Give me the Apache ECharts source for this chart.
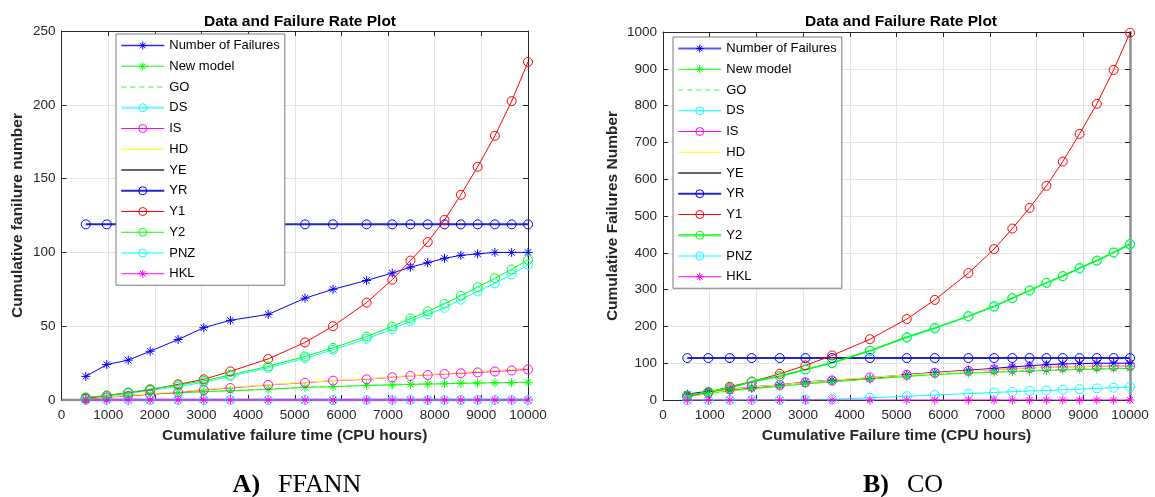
<!DOCTYPE html>
<html><head><meta charset="utf-8">
<script src="https://cdn.jsdelivr.net/npm/echarts@6/dist/echarts.min.js"></script>
<style>html,body{margin:0;padding:0;background:#fff}#c{width:1155px;height:497px}</style>
</head><body><div id="c"></div>
<script>
// ---------- data ----------
const times = [520, 970, 1430, 1900, 2500, 3050, 3620, 4430, 5220, 5820, 6540, 7090, 7480, 7850, 8210, 8560, 8920, 9290, 9650, 10000];
const yeTimesA = [0, 520, 970, 1430, 1900, 2500, 3050, 3620, 4430, 5220, 5820, 6540, 7090, 7480, 7850, 8210, 8560, 8920, 9290, 9650, 10000];
const failures = [16, 24, 27, 33, 41, 49, 54, 58, 69, 75, 81, 86, 90, 93, 96, 98, 99, 100, 100, 100];

// A) FFANN
const newModelA = [1, 2, 3, 4, 4.8, 5.6, 6.3, 7.2, 8.6, 9, 9.9, 10.2, 10.6, 10.8, 11, 11.3, 11.5, 11.7, 11.8, 12];
const goA = [1.1, 2.1, 3.1, 4.1, 5, 5.7, 6.4, 7.3, 8.7, 9.1, 10, 10.3, 10.7, 10.9, 11.1, 11.4, 11.6, 11.8, 11.9, 12.1];
const dsA = [1.5, 2.7, 4.3, 6.5, 9, 12, 16, 21.8, 28.3, 34, 41.5, 48, 53.5, 58, 62.5, 68, 73.5, 79, 85, 91.5];
const isA = [1, 1.8, 2.8, 3.8, 5.2, 6.8, 8.1, 10.2, 11.7, 13.1, 14, 15.4, 16.3, 16.9, 17.6, 18.1, 18.7, 19.3, 20, 20.7];
const hdA = [1.2, 2.1, 3.1, 4.2, 5.6, 7.1, 8.5, 10.4, 11.9, 13.2, 14.3, 15.6, 16.5, 17.2, 17.9, 18.6, 19.3, 20, 20.8, 21.6];
const yeA = [0, 0, 0, 0, 0, 0, 0, 0, 0, 0, 0, 0, 0, 0, 0, 0, 0, 0, 0, 0, 0];
const yrA = [119, 119, 119, 119, 119, 119, 119, 119, 119, 119, 119, 119, 119, 119, 119, 119, 119, 119, 119, 119];
const y1A = [1, 3, 5, 7, 10.6, 14, 19.4, 27.8, 39, 50, 66, 81.5, 94.5, 107, 122, 139, 158, 179, 202.5, 229];
const y2A = [1.8, 3, 5, 7.4, 10, 13, 17, 22.8, 29.5, 35.3, 43, 49.8, 55.2, 60, 65.2, 70.6, 76.5, 82.5, 88.5, 95];
const pnzA = [0, 0, 0, 0, 0, 0, 0, 0, 0, 0, 0, 0, 0, 0, 0, 0, 0, 0, 0, 0];
const hklA = [0, 0, 0, 0, 0, 0, 0, 0, 0, 0, 0, 0, 0, 0, 0, 0, 0, 0, 0, 0];

// B) CO
const newModelB = [10, 18, 25, 31, 37, 44, 49, 57, 64, 69, 73, 75.5, 77, 78.5, 80, 82, 83, 84, 85, 86];
const goB = [9, 17, 24, 31, 37, 44, 50, 58, 65, 70, 74, 77, 78.5, 80, 81.5, 83, 84, 85, 86, 87];
const dsB = [11, 21, 32, 48, 64, 82, 100, 133, 169, 194, 227, 253, 276, 297, 318, 336, 357, 378, 400, 422];
const isB = [10, 20, 29, 36, 41, 48, 53, 61, 68.5, 74, 79.7, 83, 85, 87, 89, 89.8, 90.7, 91.5, 92, 93];
const hdB = [9, 19, 28, 35, 41, 48, 54, 61, 68, 73, 79, 83, 85.5, 87.5, 89, 90, 91, 92, 92.5, 93];
const yeB = [];
const yrB = [114, 114, 114, 114, 114, 114, 114, 114, 114, 114, 114, 114, 114, 114, 114, 114, 114, 114, 114, 114];
const y1B = [10, 21, 36, 50, 71, 94, 121, 165, 220, 272, 345, 410, 466, 522, 582, 648, 723, 805, 897, 998];
const y2B = [12, 22, 33, 50, 65, 83, 101, 134, 171, 196, 228, 255, 277, 298, 319, 337, 359, 379, 401, 424];
const pnzB = [0, 0, 0, 0, 0.5, 1, 2, 6, 10, 13.5, 17.5, 20.5, 22.5, 24.5, 26, 27.7, 29.5, 31.5, 33.5, 35.5];
const hklB = [0, 0, 0, 0, 0, 0, 0, 0, 0, 0, 0, 0, 0, 0, 0, 0, 0, 0, 0, 0];

const seriesNames = ['Number of Failures', 'New model', 'GO', 'DS', 'IS', 'HD', 'YE', 'YR', 'Y1', 'Y2', 'PNZ', 'HKL'];
const xMin = 0, xMax = 10000, xStep = 1000;
const yMaxA = 250, yStepA = 50;
const yMaxB = 1000, yStepB = 100;
const titleText = 'Data and Failure Rate Plot';
const xNameA = 'Cumulative failure time (CPU hours)';
const xNameB = 'Cumulative Failure time (CPU hours)';
const yNameA = 'Cumulative fanilure number';
const yNameB = 'Cumulative Failures Number';
const captionA = ['A)', 'FFANN'];
const captionB = ['B)', 'CO'];

// ---------- styling ----------
const FONT = "'Liberation Sans', Arial, sans-serif";
const SERIF = "'Liberation Serif', 'Times New Roman', serif";
const STAR = 'path://M5,0L5,10M0,5L10,5M1.46,1.46L8.54,8.54M1.46,8.54L8.54,1.46';

const dataA = {'Number of Failures': failures, 'New model': newModelA, 'GO': goA, 'DS': dsA, 'IS': isA, 'HD': hdA,
  'YE': yeA, 'YR': yrA, 'Y1': y1A, 'Y2': y2A, 'PNZ': pnzA, 'HKL': hklA};
const dataB = {'Number of Failures': failures, 'New model': newModelB, 'GO': goB, 'DS': dsB, 'IS': isB, 'HD': hdB,
  'YE': yeB, 'YR': yrB, 'Y1': y1B, 'Y2': y2B, 'PNZ': pnzB, 'HKL': hklB};

const baseStyle = {
  'Number of Failures': {c: '#0000ff', sym: 'star'},
  'New model': {c: '#00ff00', sym: 'star'},
  'GO': {c: '#33ff33', sym: 'none', dash: true},
  'DS': {c: '#00ffff', sym: 'circle'},
  'IS': {c: '#ff00ff', sym: 'circle'},
  'HD': {c: '#ffff00', sym: 'none'},
  'YE': {c: '#666666', sym: 'none'},
  'YR': {c: '#0000ff', lc: '#2626c8', w: 2, sym: 'circle'},
  'Y1': {c: '#ff0000', sym: 'circle'},
  'Y2': {c: '#00ff00', sym: 'circle'},
  'PNZ': {c: '#00ffff', sym: 'circle'},
  'HKL': {c: '#ff00ff', sym: 'star'}
};
const styleA = Object.assign({}, baseStyle, {
  'YE': {c: '#8c8c8c', sym: 'none', w: 2.5, xs: yeTimesA},
  'HKL': {c: '#ff00ff', lc: '#a855f0', w: 2.5, sym: 'star'}
});
const styleB = Object.assign({}, baseStyle, {
  'Y2': {c: '#00ff00', sym: 'circle', w: 1.5}
});
// legend icon line styles (as drawn in each reference legend)
const legendLineA = {'Number of Failures': {color: '#2a2aff', width: 1.4}, 'DS': {color: '#7ff7ff', width: 2.5},
  'YE': {color: '#666666', width: 2}, 'HKL': {color: '#ff00ff', width: 1}};
const legendLineB = {'Number of Failures': {color: '#5858f8', width: 2}, 'Y2': {color: '#55f555', width: 2.5},
  'YE': {color: '#666666', width: 2}};

function mkSeries(gi, suffix, dataMap, styleMap) {
  return seriesNames.map(n => {
    const st = styleMap[n];
    const xs = st.xs || times;
    const ys = dataMap[n];
    const hasSym = st.sym !== 'none';
    return {
      type: 'line', name: n + suffix,
      xAxisIndex: gi * 2, yAxisIndex: gi * 2,
      data: ys.map((v, i) => [xs[i], v]),
      symbol: st.sym === 'star' ? STAR : 'circle',
      showSymbol: hasSym, showAllSymbol: true, symbolSize: 9,
      itemStyle: {color: 'rgba(0,0,0,0)', borderColor: hasSym ? (st.mc || st.c) : 'rgba(0,0,0,0)', borderWidth: 1},
      lineStyle: {color: st.lc || st.c, width: st.w || 1, type: st.dash ? [5, 4] : 'solid'},
      silent: true, animation: false
    };
  });
}

function legendData(suffix, styleMap, overrides) {
  return seriesNames.map(n => {
    const st = styleMap[n];
    const ls = Object.assign({color: st.lc || st.c, width: st.w || 1, type: st.dash ? [5, 4] : 'solid'}, overrides[n] || {});
    return {name: n + suffix, lineStyle: ls};
  });
}

const TXT = '#262626';
const plain = v => String(v);
function xAxes(gi, name) {
  return [{
    gridIndex: gi, type: 'value', min: xMin, max: xMax, interval: xStep, position: 'bottom',
    axisLine: {onZero: false, lineStyle: {color: TXT, width: 1}},
    axisTick: {inside: true, length: 5, lineStyle: {color: TXT}},
    axisLabel: {color: TXT, fontFamily: FONT, fontSize: 13.5, margin: 8, formatter: plain},
    splitLine: {show: true, lineStyle: {color: '#e3e3e3', width: 1}},
    name: name, nameLocation: 'middle', nameGap: 28,
    nameTextStyle: {color: TXT, fontFamily: FONT, fontSize: 15.5, fontWeight: 'bold'}
  }, {
    gridIndex: gi, type: 'value', min: xMin, max: xMax, interval: xStep, position: 'top',
    axisLine: {onZero: false, lineStyle: {color: TXT, width: 1}},
    axisTick: {inside: true, length: 5, lineStyle: {color: TXT}},
    axisLabel: {show: false}, splitLine: {show: false}
  }];
}
function yAxes(gi, max, step, name, gap, rightColor, rightWidth) {
  return [{
    gridIndex: gi, type: 'value', min: 0, max: max, interval: step, position: 'left',
    axisLine: {show: true, onZero: false, lineStyle: {color: TXT, width: 1}},
    axisTick: {show: true, inside: true, length: 5, lineStyle: {color: TXT}},
    axisLabel: {color: TXT, fontFamily: FONT, fontSize: 13.5, margin: 6, formatter: plain},
    splitLine: {show: true, lineStyle: {color: '#e3e3e3', width: 1}},
    name: name, nameLocation: 'middle', nameGap: gap,
    nameTextStyle: {color: TXT, fontFamily: FONT, fontSize: 15.5, fontWeight: 'bold'}
  }, {
    gridIndex: gi, type: 'value', min: 0, max: max, interval: step, position: 'right',
    axisLine: {show: true, onZero: false, lineStyle: {color: rightColor, width: rightWidth}},
    axisTick: {show: true, inside: true, length: 5, lineStyle: {color: TXT}},
    axisLabel: {show: false}, splitLine: {show: false}
  }];
}

function legend(left, top, suffix, styleMap, overrides) {
  return {
    left: left, top: top, orient: 'vertical',
    data: legendData(suffix, styleMap, overrides),
    itemWidth: 43, itemHeight: 10, itemGap: 7.75,
    padding: [5, 5, 5, 4],
    backgroundColor: '#ffffff', borderColor: '#7a7a7a', borderWidth: 1, borderRadius: 0,
    itemStyle: {borderWidth: 1},
    textStyle: {color: '#000', fontFamily: FONT, fontSize: 13, lineHeight: 10},
    formatter: n => n.replace('\u200b', ''),
    selectedMode: false
  };
}

function caption(left, parts) {
  return {
    text: '{a|' + parts[0] + '}{b|' + parts[1] + '}', left: left, top: 467, textAlign: 'center',
    textStyle: {rich: {
      a: {fontFamily: SERIF, fontSize: 26, fontWeight: 'bold', color: '#000', padding: [0, 18, 0, 0]},
      b: {fontFamily: SERIF, fontSize: 26, fontWeight: 'normal', color: '#000'}
    }}
  };
}

const option = {
  backgroundColor: '#ffffff',
  animation: false,
  title: [
    {text: titleText, left: 295, top: 9, textAlign: 'center',
     textStyle: {fontFamily: FONT, fontSize: 15.5, fontWeight: 'bold', color: '#000'}},
    {text: titleText, left: 896, top: 9, textAlign: 'center',
     textStyle: {fontFamily: FONT, fontSize: 15.5, fontWeight: 'bold', color: '#000'}},
    caption(292, captionA),
    caption(898, captionB)
  ],
  grid: [
    {left: 61.5, top: 31, width: 466.5, height: 369},
    {left: 663, top: 32, width: 467, height: 368}
  ],
  xAxis: [...xAxes(0, xNameA), ...xAxes(1, xNameB)],
  yAxis: [...yAxes(0, yMaxA, yStepA, yNameA, 36, TXT, 1), ...yAxes(1, yMaxB, yStepB, yNameB, 42, '#8f8f8f', 2.5)],
  legend: [legend(116, 34, '', styleA, legendLineA), legend(673, 37, '\u200b', styleB, legendLineB)],
  series: [...mkSeries(0, '', dataA, styleA), ...mkSeries(1, '\u200b', dataB, styleB)]
};

const chart = echarts.init(document.getElementById('c'), null, {renderer: 'canvas'});
chart.setOption(option);
</script>
</body></html>
